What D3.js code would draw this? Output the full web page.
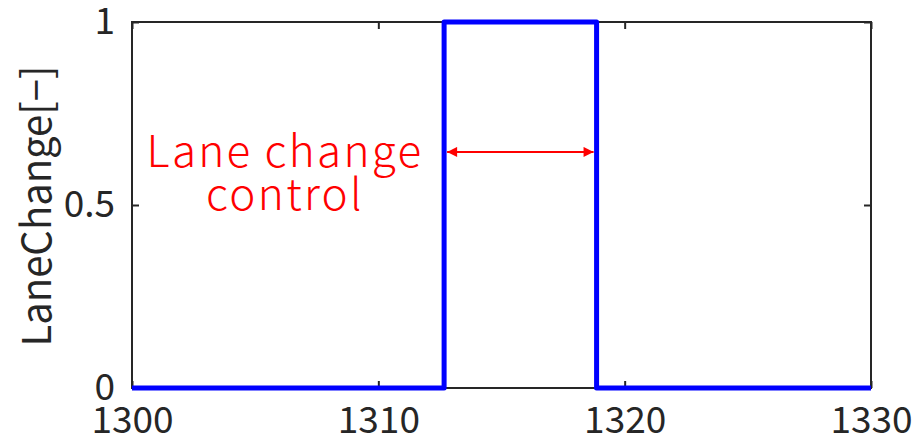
<!DOCTYPE html>
<html>
<head>
<meta charset="utf-8">
<script src="https://cdn.jsdelivr.net/npm/d3@7"></script>
<style>
  body { margin: 0; background: #fff; }
  text { font-family: "Noto Sans CJK JP", "Noto Sans", sans-serif; }
</style>
</head>
<body>
<div id="chart"></div>
<script>
var width = 916,
    height = 445,
    margin = {top: 22, right: 45, bottom: 57, left: 132};

// step signal: time [s] vs lane change flag
var timeVals = [1300, 1312.67, 1312.67, 1318.86, 1318.86, 1330];
var laneVals = [0, 0, 1, 1, 0, 0];
var xTicks = [1300, 1310, 1320, 1330];
var yTicks = [0, 0.5, 1];
var arrowSpan = [1312.67, 1318.86];
var arrowLevel = 0.645;

var svg = d3.select("#chart")
    .append("svg")
    .attr("width", width)
    .attr("height", height);

var w = width - margin.left - margin.right,
    h = height - margin.top - margin.bottom;

var x = d3.scaleLinear().domain([1300, 1330]).range([0, w]);
var y = d3.scaleLinear().domain([0, 1]).range([h, 0]);

var g = svg.append("g")
    .attr("transform", "translate(" + margin.left + "," + margin.top + ")");

// box
g.append("rect")
    .attr("width", w)
    .attr("height", h)
    .attr("fill", "none")
    .attr("stroke", "#262626")
    .attr("stroke-width", 2);

var xAxis = g.append("g")
    .attr("transform", "translate(0," + h + ")")
    .call(d3.axisBottom(x).tickValues(xTicks).tickSize(-7).tickPadding(19).tickFormat(d3.format("d")));
var xAxisTop = g.append("g")
    .call(d3.axisTop(x).tickValues(xTicks).tickSize(-7).tickFormat(""));
var yAxis = g.append("g")
    .call(d3.axisLeft(y).tickValues(yTicks).tickSize(-7).tickPadding(17).tickFormat(function(d) { return d; }));
var yAxisR = g.append("g")
    .attr("transform", "translate(" + w + ",0)")
    .call(d3.axisRight(y).tickValues(yTicks).tickSize(-7).tickFormat(""));

[xAxis, xAxisTop, yAxis, yAxisR].forEach(function(a) {
    a.select(".domain").remove();
    a.selectAll("line").attr("stroke", "#262626").attr("stroke-width", 2);
    a.selectAll("text").attr("fill", "#262626").style("font-size", "37px");
});
xAxis.selectAll("text").attr("dy", "0.71em");

var line = d3.line()
    .x(function(d, i) { return x(timeVals[i]); })
    .y(function(d) { return y(d); });

g.append("path")
    .datum(laneVals)
    .attr("d", line)
    .attr("fill", "none")
    .attr("stroke", "#0000ff")
    .attr("stroke-width", 5)
    .attr("stroke-linejoin", "round");

// annotation arrow
var defs = svg.append("defs");
defs.append("marker")
    .attr("id", "ah")
    .attr("viewBox", "0 0 10 10")
    .attr("refX", 10).attr("refY", 5)
    .attr("markerWidth", 7).attr("markerHeight", 5)
    .attr("markerUnits", "strokeWidth")
    .attr("orient", "auto-start-reverse")
    .append("path")
    .attr("d", "M0,0 L10,5 L0,10 z")
    .attr("fill", "#ff0000");

g.append("line")
    .attr("x1", x(arrowSpan[0]) + 3)
    .attr("x2", x(arrowSpan[1]) - 3)
    .attr("y1", y(arrowLevel))
    .attr("y2", y(arrowLevel))
    .attr("stroke", "#ff0000")
    .attr("stroke-width", 2)
    .attr("marker-start", "url(#ah)")
    .attr("marker-end", "url(#ah)");

var note = g.append("text")
    .attr("text-anchor", "middle")
    .attr("fill", "#ff0000")
    .style("font-size", "44px")
    .style("font-weight", 300)
    .style("letter-spacing", "2.3px");
note.append("tspan").attr("x", 153).attr("y", 145).text("Lane change");
note.append("tspan").attr("x", 153).attr("y", 188).text("control");

svg.append("text")
    .attr("transform", "translate(51," + (margin.top + 184) + ") rotate(-90)")
    .attr("text-anchor", "middle")
    .attr("fill", "#262626")
    .style("font-size", "40px")
    .text("LaneChange[\u2212]");
</script>
</body>
</html>
